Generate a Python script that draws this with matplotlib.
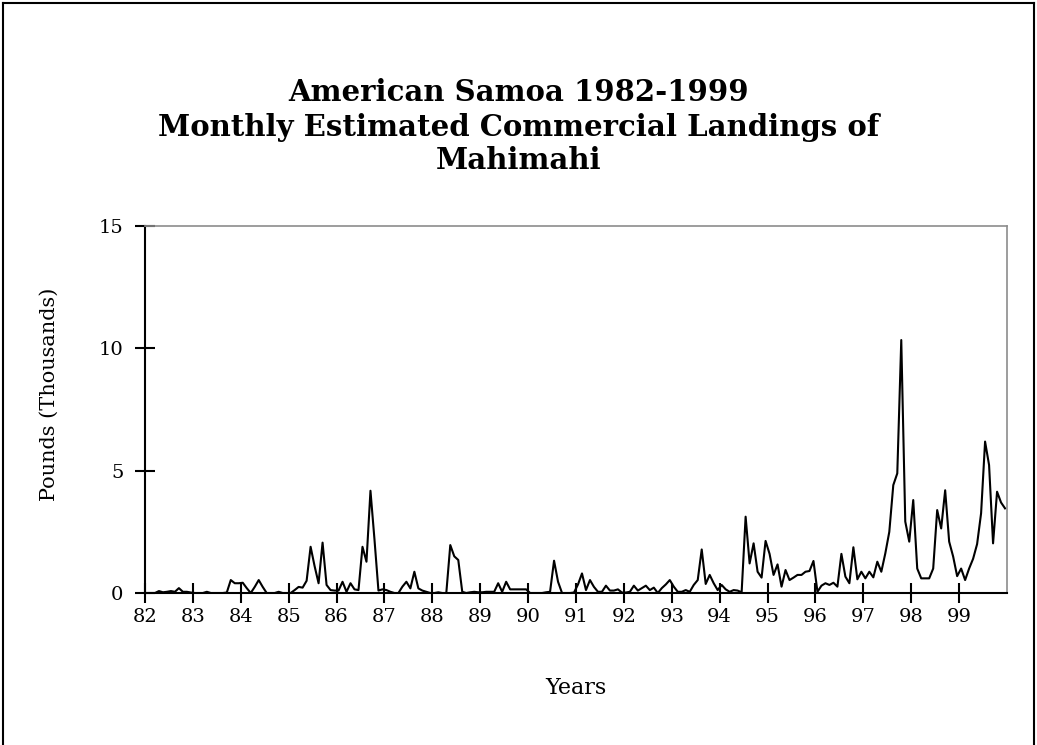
import numpy as np
import matplotlib
matplotlib.use('Agg')
import matplotlib.pyplot as plt
from matplotlib.lines import Line2D

plt.rcParams['font.family'] = ['DejaVu Serif']

# monthly landings (thousands of pounds), Jan..Dec of each year
m82 = [0, 0, 0, 0.08, 0.03, 0.05, 0.08, 0.05, 0.2, 0.05, 0.05, 0.02]
m83 = [0, 0, 0, 0.05, 0, 0, 0, 0, 0.02, 0.53, 0.4, 0.4]
m84 = [0.42, 0.2, 0, 0.25, 0.53, 0.25, 0, 0, 0, 0.05, 0, 0]
m85 = [0, 0.12, 0.25, 0.22, 0.5, 1.89, 1.1, 0.4, 2.06, 0.33, 0.12, 0.1]
m86 = [0.1, 0.46, 0.05, 0.4, 0.15, 0.12, 1.89, 1.28, 4.18, 2.2, 0.1, 0.15]
m87 = [0.12, 0.05, 0, 0, 0.26, 0.46, 0.19, 0.87, 0.19, 0.1, 0.05, 0]
m88 = [0, 0.03, 0, 0, 1.96, 1.5, 1.35, 0.05, 0, 0.03, 0.05, 0.03]
m89 = [0.03, 0.05, 0.05, 0.05, 0.4, 0.05, 0.46, 0.15, 0.15, 0.15, 0.15, 0.15]
m90 = [0, 0, 0, 0, 0.03, 0.05, 1.32, 0.46, 0, 0, 0, 0.02]
m91 = [0.35, 0.8, 0.12, 0.53, 0.25, 0.05, 0.05, 0.3, 0.1, 0.1, 0.15, 0.02]
m92 = [0.02, 0.05, 0.3, 0.1, 0.2, 0.3, 0.12, 0.22, 0, 0.2, 0.35, 0.53]
m93 = [0.26, 0.05, 0.05, 0.12, 0.05, 0.33, 0.53, 1.78, 0.37, 0.74, 0.4, 0.12]
m94 = [0.33, 0.15, 0.05, 0.12, 0.1, 0.03, 3.12, 1.21, 2.03, 0.87, 0.63, 2.13]
m95 = [1.6, 0.74, 1.17, 0.26, 0.94, 0.53, 0.63, 0.74, 0.74, 0.87, 0.9, 1.31]
m96 = [0.05, 0.3, 0.4, 0.33, 0.42, 0.26, 1.6, 0.67, 0.4, 1.87, 0.56, 0.87]
m97 = [0.6, 0.87, 0.64, 1.28, 0.87, 1.62, 2.5, 4.41, 4.89, 10.34, 2.92, 2.1]
m98 = [3.8, 1.0, 0.6, 0.6, 0.6, 1.0, 3.39, 2.64, 4.2, 2.1, 1.49, 0.69]
m99 = [1.0, 0.53, 1.0, 1.4, 2.0, 3.26, 6.19, 5.23, 2.03, 4.14, 3.7, 3.46]

year_labels = ['82', '83', '84', '85', '86', '87', '88', '89', '90',
               '91', '92', '93', '94', '95', '96', '97', '98', '99']
y_ticks = [0, 5, 10, 15]

vals = np.array(m82 + m83 + m84 + m85 + m86 + m87 + m88 + m89 + m90 +
                m91 + m92 + m93 + m94 + m95 + m96 + m97 + m98 + m99)
x = 82 + (np.arange(len(vals)) + 0.5) / 12.0

fig = plt.figure(figsize=(10.37, 7.45), dpi=100)
ax = fig.add_axes([0.1398, 0.204, 0.8313, 0.4926])

ax.plot(x, vals, color='black', linewidth=1.5)

ax.set_xlim(82, 100)
ax.set_ylim(0, 15)
ax.set_xticks(np.arange(82, 100))
ax.set_xticklabels(year_labels)
ax.set_yticks(y_ticks)

ax.tick_params(axis='both', direction='inout', length=15, width=1.5,
               labelsize=14, colors='black')
ax.tick_params(axis='x', pad=3)
ax.tick_params(axis='y', pad=8)

for s in ['left', 'bottom']:
    ax.spines[s].set_linewidth(1.5)
    ax.spines[s].set_color('black')
for s in ['top', 'right']:
    ax.spines[s].set_linewidth(1.2)
    ax.spines[s].set_color('#8c8c8c')

fig.text(0.048, 0.471, 'Pounds (Thousands)', rotation=90, ha='center',
         va='center', fontsize=15)
fig.text(0.555, 0.0765, 'Years', ha='center', va='center', fontsize=16)

fig.text(0.5, 0.8765, 'American Samoa 1982-1999', ha='center', va='center',
         fontsize=21, fontweight='bold')
fig.text(0.5, 0.8295, 'Monthly Estimated Commercial Landings of', ha='center',
         va='center', fontsize=21, fontweight='bold')
fig.text(0.5, 0.785, 'Mahimahi', ha='center', va='center',
         fontsize=21, fontweight='bold')

# outer frame of the chart
fig.add_artist(Line2D([0.003, 0.003], [0.0, 0.996], color='black', lw=1.5,
                      transform=fig.transFigure))
fig.add_artist(Line2D([0.003, 0.997], [0.996, 0.996], color='black', lw=1.5,
                      transform=fig.transFigure))
fig.add_artist(Line2D([0.997, 0.997], [0.0, 0.996], color='black', lw=1.5,
                      transform=fig.transFigure))

fig.savefig('out.png', dpi=100)
